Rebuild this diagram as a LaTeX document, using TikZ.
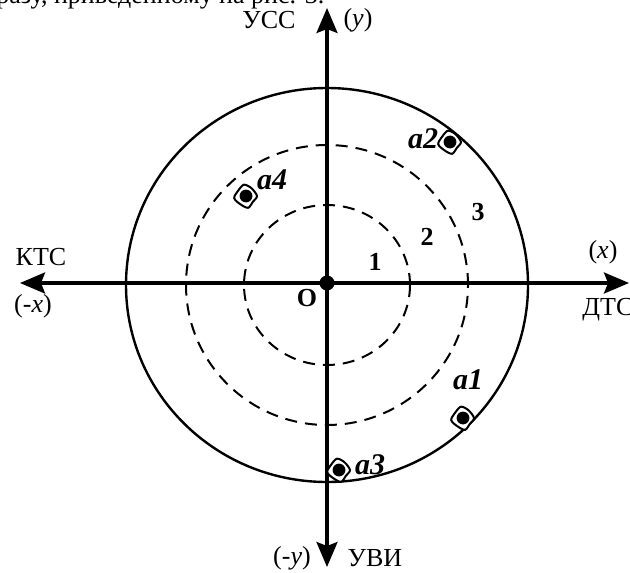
\documentclass[tikz,border=0pt]{standalone}
\usepackage{fontspec}
\setmainfont{Liberation Serif}
\usetikzlibrary{arrows.meta}

\begin{document}
\begin{tikzpicture}[x=0.5pt, y=-0.5pt,
  axis/.style={line width=1.6pt, -{Stealth[length=12.5pt, width=10.5pt, inset=2pt]}},
  ring/.style={line width=1.2pt},
  zone/.style={line width=1pt, dash pattern=on 6pt off 4pt},
  lbl/.style={font=\fontsize{13}{15}\selectfont, inner sep=0pt},
  num/.style={font=\fontsize{13}{15}\selectfont\bfseries, inner sep=0pt},
  hit/.style={font=\fontsize{15}{17}\selectfont\bfseries\itshape, inner sep=0pt},
  hole/.pic={
    \draw[line width=1pt, fill=white] plot[smooth cycle] coordinates
      {(0:11) (40:9) (80:12) (125:10) (170:12) (215:9.5) (260:11.5) (305:9.5)};
    \fill (0,0) circle[radius=3.2pt];
  }
]
  \useasboundingbox (0,0) rectangle (630,572);
  \clip (0,0) rectangle (630,572);

  % text line above the figure
  \node[anchor=base west, inner sep=0pt, font=\fontsize{13}{15}\selectfont] (txt) at (-4,4)
    {разу, приведенному на рис. 3.};

  % centre and zones
  \coordinate (O) at (327,283);
  \coordinate (C) at (327,285);
  \draw[ring] (C) ellipse[x radius=100.5pt, y radius=98.5pt];
  \draw[zone] (C) ellipse[x radius=70.5pt, y radius=70pt];
  \draw[zone] (C) ellipse[x radius=41.5pt, y radius=40pt];

  % axes
  \coordinate (xpos) at (629,283);
  \coordinate (xneg) at (20,283);
  \coordinate (ypos) at (327,8);
  \coordinate (yneg) at (327,567);
  \draw[axis] (O) -- (xpos);
  \draw[axis] (O) -- (xneg);
  \draw[axis] (O) -- (ypos);
  \draw[axis] (O) -- (yneg);
  \fill (O) circle[radius=3.75pt];

  \node[lbl] (ucc) at (269,20) {УСС};
  \node[lbl] (yp) at (358,20) {(\textit{y})};
  \node[lbl] (ktc) at (41,257) {КТС};
  \node[lbl] (xn) at (33,306) {(-\textit{x})};
  \node[lbl] (xp) at (603,252) {(\textit{x})};
  \node[lbl, anchor=west] (dtc) at (582,310) {ДТС};
  \node[lbl] (yn) at (292,558) {(-\textit{y})};
  \node[lbl] (uvi) at (375,558) {УВИ};

  \node[num] (o) at (307,298) {O};
  \node[num] (z1) at (375,262) {1};
  \node[num] (z2) at (427,237) {2};
  \node[num] (z3) at (478,212) {3};

  % hits
  \pic at (463,418) {hole};
  \pic at (450,142) {hole};
  \pic at (339,470) {hole};
  \pic at (246,196) {hole};
  \node[hit] (a1) at (468,380) {a1};
  \node[hit] (a2) at (423,139) {a2};
  \node[hit] (a3) at (370,465) {a3};
  \node[hit] (a4) at (272,180) {a4};
\end{tikzpicture}
\end{document}
